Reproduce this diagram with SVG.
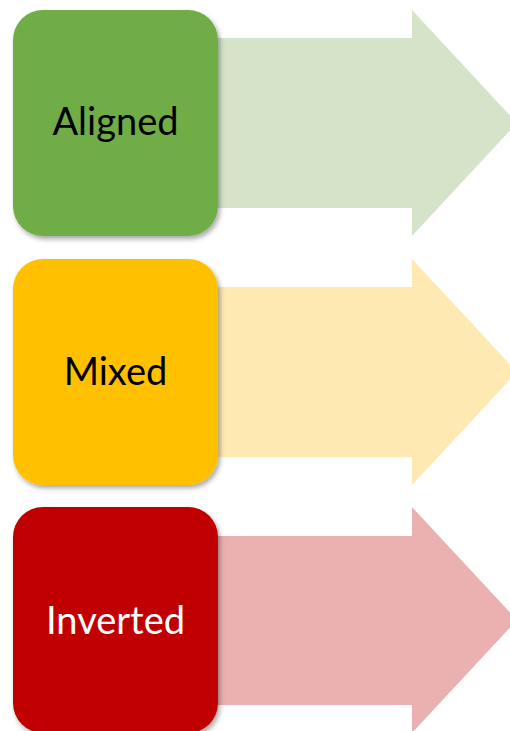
<svg xmlns="http://www.w3.org/2000/svg" width="510" height="731" viewBox="0 0 510 731">
  <defs>
    <filter id="shadow" x="-10%" y="-10%" width="125%" height="125%">
      <feDropShadow dx="2" dy="3" stdDeviation="2.5" flood-color="#000" flood-opacity="0.35"/>
    </filter>
  </defs>
  <style>
    .box { filter: url(#shadow); }
    .label { font-family: Lato, "Open Sans", "Liberation Sans", sans-serif; font-size: 38px; text-anchor: middle; }
  </style>
  <rect width="510" height="731" fill="#ffffff"/>
  <g id="connectors">
    <path id="arrow-aligned" d="M200,38 H412 V10 L517,123 L412,236 V208 H200 Z" fill="#D5E4C8"/>
    <path id="arrow-mixed" d="M200,287 H412 V259 L517,372 L412,485 V457 H200 Z" fill="#FEE9B2"/>
    <path id="arrow-inverted" d="M200,536 H412 V507 L517,620 L412,733 V705 H200 Z" fill="#EBB1B1"/>
  </g>
  <g id="node-aligned">
    <rect class="box" x="13" y="10" width="205" height="226" rx="30" fill="#70AD47"/>
    <text class="label" x="115.5" y="135" fill="#000">Aligned</text>
  </g>
  <g id="node-mixed">
    <rect class="box" x="13" y="259" width="205" height="226" rx="30" fill="#FFC000"/>
    <text class="label" x="115.5" y="385" fill="#000">Mixed</text>
  </g>
  <g id="node-inverted">
    <rect class="box" x="13" y="507" width="205" height="226" rx="30" fill="#C00000"/>
    <text class="label" x="115.5" y="634" fill="#fff">Inverted</text>
  </g>
</svg>
